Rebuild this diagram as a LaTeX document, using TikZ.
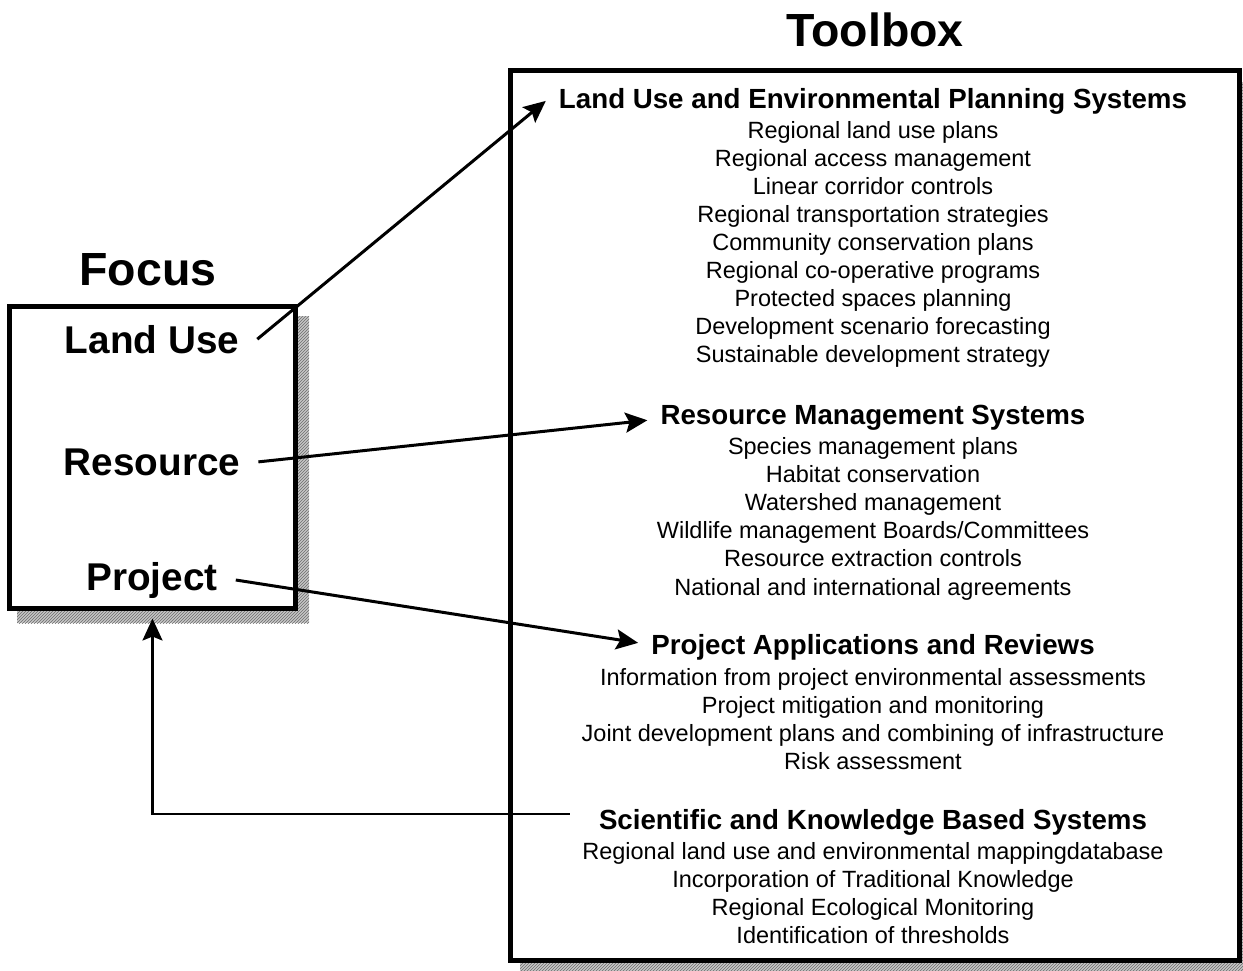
\documentclass[tikz,border=0pt]{standalone}
\usepackage{fontspec}
\setmainfont{Liberation Sans}
\usetikzlibrary{arrows.meta,patterns}

\begin{document}
\begin{tikzpicture}[x=1pt,y=-1pt,
  titletext/.style={font=\bfseries\fontsize{46.5}{56}\selectfont, anchor=base, inner sep=0pt},
  focuslabel/.style={font=\bfseries\fontsize{38.7}{46}\selectfont, anchor=base, inner xsep=18pt, inner ysep=0pt},
  headtext/.style={font=\bfseries\fontsize{27.7}{33}\selectfont, anchor=base, inner xsep=13pt, inner ysep=0pt},
  itemtext/.style={font=\fontsize{23.5}{28}\selectfont, anchor=base, inner sep=0pt},
  frame/.style={draw=black, line width=5pt, fill=white, inner sep=0pt},
  shadowfill/.style={fill=gray!45, postaction={pattern=north east lines, pattern color=gray!85!black}},
  tip/.style={-{Stealth[length=22pt,width=20pt,inset=4pt]}},
  link/.style={tip, line width=3pt},
  backlink/.style={tip, line width=2.5pt},
]
\useasboundingbox (0,0) rectangle (1243,970);
\clip (0,0) rectangle (1243,970);

% drop shadows
\path[shadowfill] (17,316) rectangle (309,623);
\path[shadowfill] (520,82) rectangle (1260,980);

% frames
\node[frame, minimum width=286pt, minimum height=302pt] (focus) at (152.5,457) {};
\node[frame, minimum width=729.5pt, minimum height=890pt] (toolbox) at (874.75,515) {};

% titles
\node[titletext] (ttool) at (875,46) {Toolbox};
\node[titletext] (tfocus) at (148,285) {Focus};

% focus levels
\node[focuslabel] (lu) at (152,353) {Land Use};
\node[focuslabel] (res) at (152,475) {Resource};
\node[focuslabel] (prj) at (152,590) {Project};

% toolbox sections
\node[headtext] (h1) at (873,108) {Land Use and Environmental Planning Systems};
\foreach \t [count=\i] in {Regional land use plans, Regional access management,
  Linear corridor controls, Regional transportation strategies,
  Community conservation plans, Regional co-operative programs,
  Protected spaces planning, Development scenario forecasting,
  Sustainable development strategy}
  \node[itemtext] (a\i) at (873,{138+28.1*(\i-1)}) {\t};

\node[headtext] (h2) at (873,424) {Resource Management Systems};
\foreach \t [count=\i] in {Species management plans, Habitat conservation,
  Watershed management, Wildlife management Boards/Committees,
  Resource extraction controls, National and international agreements}
  \node[itemtext] (b\i) at (873,{454+28.2*(\i-1)}) {\t};

\node[headtext] (h3) at (873,654) {Project Applications and Reviews};
\foreach \t [count=\i] in {Information from project environmental assessments,
  Project mitigation and monitoring,
  Joint development plans and combining of infrastructure,
  Risk assessment}
  \node[itemtext] (c\i) at (873,{685+28.3*(\i-1)}) {\t};

\node[headtext] (h4) at (873,829) {Scientific and Knowledge Based Systems};
\foreach \t [count=\i] in {Regional land use and environmental mappingdatabase,
  Incorporation of Traditional Knowledge,
  Regional Ecological Monitoring,
  Identification of thresholds}
  \node[itemtext] (d\i) at (873,{859+28.3*(\i-1)}) {\t};

% connectors
\draw[link] (lu.east) -- (h1.west);
\draw[link] (res.east) -- ([yshift=-3pt]h2.west);
\draw[link] (prj.east) -- ([yshift=4pt]h3.west);
\draw[backlink, shorten <=16pt] ([yshift=8pt]h4.west) -| ([yshift=-8pt]focus.south);
\end{tikzpicture}
\end{document}
